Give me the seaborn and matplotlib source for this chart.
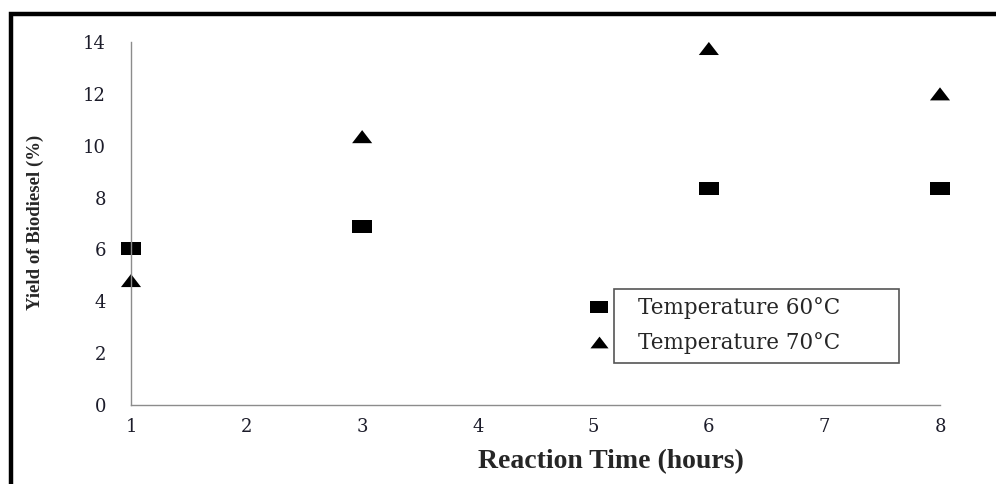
import matplotlib
matplotlib.use("Agg")
import matplotlib.pyplot as plt
import seaborn as sns
import pandas as pd
from matplotlib.patches import Rectangle

# data
hours = [1, 3, 6, 8]
yield_60 = [6.05, 6.9, 8.35, 8.35]
yield_70 = [4.8, 10.35, 13.75, 12.0]
series_names = ["Temperature 60°C", "Temperature 70°C"]
x_ticks = [1, 2, 3, 4, 5, 6, 7, 8]
y_ticks = [0, 2, 4, 6, 8, 10, 12, 14]

df = pd.DataFrame({
    "hours": hours * 2,
    "yield": yield_60 + yield_70,
    "series": [series_names[0]] * len(hours) + [series_names[1]] * len(hours),
})

sns.set_theme(style="white")
plt.rcParams["font.family"] = ["Liberation Serif", "DejaVu Serif"]

W, H = 996, 484
fig = plt.figure(figsize=(W / 100, H / 100), dpi=100)
ax = fig.add_axes([131 / W, 1 - 405 / H, (940 - 131) / W, (405 - 42) / H])

rect_marker = [(-1, -0.65), (1, -0.65), (1, 0.65), (-1, 0.65), (-1, -0.65)]
tri_marker = [(-1, -0.65), (1, -0.65), (0, 0.65), (-1, -0.65)]

sns.scatterplot(data=df, x="hours", y="yield", hue="series", style="series",
                palette=["black", "black"],
                markers={series_names[0]: rect_marker, series_names[1]: tri_marker},
                s=210, linewidth=0, ax=ax, legend=True, clip_on=False)

ax.set_xlim(1, 8)
ax.set_ylim(0, 14)
ax.set_xticks(x_ticks)
ax.set_yticks(y_ticks)
for side in ["top", "right"]:
    ax.spines[side].set_visible(False)
for side in ["left", "bottom"]:
    ax.spines[side].set_color("#8c8c8c")
    ax.spines[side].set_linewidth(1.0)
ax.tick_params(axis="both", length=0, labelcolor="#1c1c2a")
ax.tick_params(axis="y", pad=18)
ax.tick_params(axis="x", pad=9)
for lbl in ax.get_xticklabels() + ax.get_yticklabels():
    lbl.set_fontfamily("DejaVu Serif")
    lbl.set_fontsize(13)

ax.set_xlabel("Reaction Time (hours)", fontsize=20, fontweight="bold")
ax.xaxis.set_label_coords((611 - 131) / (940 - 131), -(462 - 405) / (405 - 42), transform=ax.transAxes)
ax.xaxis.label.set_verticalalignment("center")
ax.set_ylabel("Yield of Biodiesel (%)", fontsize=13.5, fontweight="bold")
ax.yaxis.set_label_coords(-(131 - 35) / (940 - 131), (405 - 222) / (405 - 42), transform=ax.transAxes)
ax.yaxis.label.set_verticalalignment("center")

handles, labels = ax.get_legend_handles_labels()
ax.legend(handles=handles, labels=labels, frameon=False,
          prop={"family": "DejaVu Serif", "size": 15.5},
          loc="upper left", bbox_to_anchor=(584 / W, 1 - 293 / H),
          bbox_transform=fig.transFigure, handlelength=1.0, handletextpad=1.3,
          labelspacing=0.6, borderpad=0.2, borderaxespad=0, markerscale=0.9)

# legend frame that sits right of the markers
fig.add_artist(Rectangle((614 / W, 1 - 363 / H), (899 - 614) / W, (363 - 289) / H,
                         transform=fig.transFigure, fill=False,
                         edgecolor="#555555", linewidth=1.2))

# outer black frame (clipped by the image edges)
fig.add_artist(Rectangle((10.5 / W, -0.1), 1.2, 1.1 - 14 / H,
                         transform=fig.transFigure, fill=False,
                         edgecolor="black", linewidth=3.2))

fig.savefig("out.png", dpi=100)
